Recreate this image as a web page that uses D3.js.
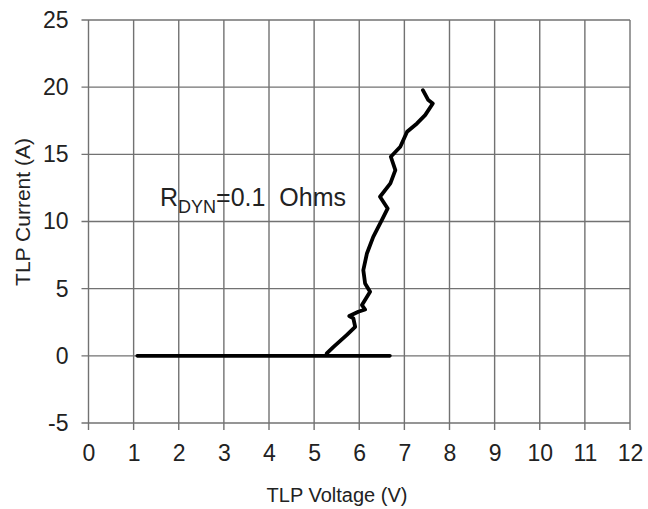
<!DOCTYPE html>
<html><head><meta charset="utf-8">
<script src="https://cdn.jsdelivr.net/npm/d3@7"></script>
<style>
html,body{margin:0;padding:0;background:#fff;}
svg{display:block;font-family:"Liberation Sans",Arial,sans-serif;}
</style></head>
<body>
<svg id="chart" width="648" height="509"></svg>
<script>
const xTicks = [0,1,2,3,4,5,6,7,8,9,10,11,12];
const yTicks = [-5,0,5,10,15,20,25];
// Flat (off-state) sweep
const flatV = [1.08, 6.68];
const flatI = [0, 0];
// Snapback / on-state curve
const curveV = [5.28,5.43,5.72,5.91,5.87,5.78,5.98,6.13,6.06,6.24,6.13,6.09,6.17,6.31,6.50,6.63,6.46,6.69,6.80,6.70,6.91,7.06,7.28,7.46,7.63,7.53,7.41];
const curveI = [0.18,0.67,1.54,2.16,2.78,2.96,3.28,3.45,3.78,4.77,5.39,6.38,7.62,8.86,10.1,10.97,11.84,12.84,13.83,14.82,15.56,16.68,17.3,17.92,18.79,19.04,19.78];
const xTitle = "TLP Voltage (V)";
const yTitle = "TLP Current (A)";

const svg = d3.select("#chart");
const x = d3.scaleLinear().domain([0,12]).range([88.5,630]);
const y = d3.scaleLinear().domain([-5,25]).range([423,20]);
const gridColor = "#727272";

// grid
svg.append("g").selectAll("line.v").data(xTicks).join("line")
  .attr("x1",d=>x(d)).attr("x2",d=>x(d)).attr("y1",y(25)).attr("y2",y(-5)+7)
  .attr("stroke",gridColor).attr("stroke-width",1.4);
svg.append("g").selectAll("line.h").data(yTicks).join("line")
  .attr("x1",x(0)-7).attr("x2",x(12)).attr("y1",d=>y(d)).attr("y2",d=>y(d))
  .attr("stroke",gridColor).attr("stroke-width",1.4);

// tick labels via axes
const fmt = d => String(d);
const xAxis = svg.append("g").attr("transform",`translate(0,${y(-5)})`)
  .call(d3.axisBottom(x).tickValues(xTicks).tickSize(0).tickPadding(22).tickFormat(fmt));
const yAxis = svg.append("g").attr("transform",`translate(${x(0)},0)`)
  .call(d3.axisLeft(y).tickValues(yTicks).tickSize(0).tickPadding(20).tickFormat(fmt));
[xAxis,yAxis].forEach(a=>{
  a.select(".domain").remove();
  a.attr("font-size",23).attr("font-family","'Liberation Sans',Arial,sans-serif");
  a.selectAll("text").attr("fill","#222");
});

// titles
svg.append("text").attr("x",337).attr("y",502).attr("text-anchor","middle")
  .attr("font-size",20).attr("fill","#222").text(xTitle);
svg.append("text").attr("transform",`translate(30,212) rotate(-90)`)
  .attr("text-anchor","middle").attr("font-size",21).attr("fill","#222").text(yTitle);

// annotation
const ann = svg.append("text").attr("x",160).attr("y",206).attr("font-size",25).attr("fill","#222");
ann.append("tspan").text("R");
ann.append("tspan").attr("font-size",18).attr("dy",7).text("DYN");
ann.append("tspan").attr("dy",-7).text("=0.1\u00a0\u00a0Ohms");

// data lines
const line = d3.line().x(d=>x(d[0])).y(d=>y(d[1]));
svg.append("path").datum(flatV.map((v,i)=>[v,flatI[i]])).attr("d",line)
  .attr("fill","none").attr("stroke","#000").attr("stroke-width",3.6).attr("stroke-linecap","round");
svg.append("path").datum(curveV.map((v,i)=>[v,curveI[i]])).attr("d",line)
  .attr("fill","none").attr("stroke","#000").attr("stroke-width",3.8)
  .attr("stroke-linejoin","round").attr("stroke-linecap","round");
</script>
</body></html>
